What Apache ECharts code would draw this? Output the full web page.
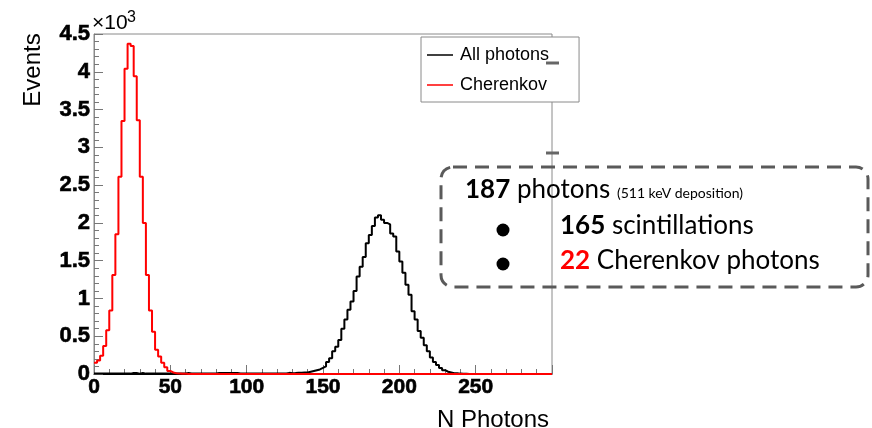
<!DOCTYPE html>
<html>
<head>
<meta charset="utf-8">
<script src="https://cdn.jsdelivr.net/npm/echarts@6/dist/echarts.min.js"></script>
<style>
html,body{margin:0;padding:0;background:#fff;}
#chart{width:872px;height:428px;}
</style>
</head>
<body>
<div id="chart"></div>
<script>
// Histogram definition: 150 bins of width 2 from 0 to 300 (N Photons)
const binWidth = 2;
const xMin = 0;
const xMax = 300;
const xTicks = [0, 50, 100, 150, 200, 250];
const yTicks = [0, 0.5, 1, 1.5, 2, 2.5, 3, 3.5, 4, 4.5];

// Events per bin (x10^3), "All photons"
const allPhotons = [
  0.005,0.005,0.005,0.005,0.005,0.005,0.005,0.005,0.005,0.005,
  0.005,0.005,0.012,0.012,0.005,0.012,0.005,0.005,0.005,0.005,
  0.008,0.008,0.008,0.008,0.008,0.008,0.008,0.008,0.008,0.008,
  0.012,0.008,0.008,0.008,0.008,0.008,0.008,0.008,0.008,0.008,
  0.012,0.012,0.012,0.012,0.012,0.012,0.012,0.006,0.006,0.006,
  0.006,0.006,0.006,0.006,0.006,0.006,0.008,0.008,0.008,0.008,
  0.008,0.008,0.008,0.015,0.010,0.012,0.015,0.018,0.02,0.02,
  0.03,0.04,0.05,0.06,0.08,0.10,0.16,0.21,0.30,0.36,
  0.45,0.60,0.72,0.85,0.96,1.10,1.29,1.42,1.55,1.73,
  1.84,1.96,2.07,2.10,2.04,2.00,1.98,1.86,1.82,1.62,
  1.49,1.34,1.18,1.05,0.83,0.72,0.57,0.48,0.38,0.30,
  0.22,0.16,0.12,0.08,0.05,0.03,0.02,0.01,0.01,0.005,
  0.003,0.002,0,0,0,0,0,0,0,0,
  0,0,0,0,0,0,0,0,0,0,
  0,0,0,0,0,0,0,0,0,0
];

// Events per bin (x10^3), "Cherenkov"
const cherenkov = [
  0.15,0.18,0.24,0.37,0.58,0.84,1.31,1.85,2.61,3.35,
  4.04,4.37,4.34,3.94,3.36,2.61,2.00,1.31,0.84,0.56,
  0.32,0.23,0.15,0.09,0.04,0.02,0.01,0.005,0.003,0.002,
  0.001,0.001,0,0,0,0,0,0,0,0,
  0,0,0,0,0,0,0,0,0,0,
  0,0,0,0,0,0,0,0,0,0,
  0,0,0,0,0,0,0,0,0,0,
  0,0,0,0,0,0,0,0,0,0,
  0,0,0,0,0,0,0,0,0,0,
  0,0,0,0,0,0,0,0,0,0,
  0,0,0,0,0,0,0,0,0,0,
  0,0,0,0,0,0,0,0,0,0,
  0,0,0,0,0,0,0,0,0,0,
  0,0,0,0,0,0,0,0,0,0,
  0,0,0,0,0,0,0,0,0,0
];

const seriesNames = ['All photons', 'Cherenkov'];
const seriesColors = ['#000000', '#ff0000'];

function toSteps(counts) {
  const pts = counts.map((v, i) => [xMin + i * binWidth, v]);
  pts.push([xMin + counts.length * binWidth, counts[counts.length - 1]]);
  return pts;
}

const chart = echarts.init(document.getElementById('chart'), null, {renderer: 'canvas'});
const tickFont = 'Liberation Sans';
const boxFont = 'Lato';

chart.setOption({
  animation: false,
  backgroundColor: '#ffffff',
  grid: {
    left: 94, right: 320, top: 34, bottom: 54,
    show: true, borderColor: '#8a8a8a', borderWidth: 1, backgroundColor: 'transparent'
  },
  legend: {
    left: 421, top: 37, orient: 'vertical',
    backgroundColor: '#ffffff', borderColor: '#8a8a8a', borderWidth: 1, borderRadius: 0,
    padding: [8, 30, 7, 6],
    icon: 'rect',
    itemWidth: 26, itemHeight: 1.5, itemGap: 10,
    textStyle: {fontFamily: tickFont, fontSize: 18, lineHeight: 20, color: '#000', padding: [0, 0, 0, 2]},
    data: seriesNames.map((n, i) => ({name: n, itemStyle: {color: seriesColors[i]}}))
  },
  xAxis: {
    type: 'value', min: xMin, max: xMax, interval: 50,
    axisLine: {show: true, lineStyle: {color: '#000', width: 1}},
    axisTick: {show: true, inside: true, length: 9, lineStyle: {color: '#777', width: 1}},
    minorTick: {show: true, splitNumber: 5, length: 5, lineStyle: {color: '#777', width: 1}},
    splitLine: {show: false},
    axisLabel: {
      fontFamily: tickFont, fontWeight: 'bold', fontSize: 21, color: '#000', margin: 3,
      textBorderColor: '#000', textBorderWidth: 0.6,
      formatter: v => (xTicks.indexOf(v) >= 0 ? String(v) : '')
    }
  },
  yAxis: {
    type: 'value', min: 0, max: 4.5, interval: 0.5,
    axisLine: {show: true, lineStyle: {color: '#8a8a8a', width: 1}},
    axisTick: {show: true, inside: true, length: 9, lineStyle: {color: '#777', width: 1}},
    minorTick: {show: true, splitNumber: 5, length: 5, lineStyle: {color: '#777', width: 1}},
    splitLine: {show: false},
    axisLabel: {
      fontFamily: tickFont, fontWeight: 'bold', fontSize: 22, color: '#000', margin: 4,
      textBorderColor: '#000', textBorderWidth: 0.6,
      formatter: v => {
        const t = yTicks.find(k => Math.abs(k - v) < 1e-6);
        return t === undefined ? '' : String(t);
      }
    }
  },
  series: [
    {
      name: seriesNames[0], type: 'line', step: 'end', symbol: 'none',
      data: toSteps(allPhotons),
      lineStyle: {color: seriesColors[0], width: 2}, itemStyle: {color: seriesColors[0]}, z: 2
    },
    {
      name: seriesNames[1], type: 'line', step: 'end', symbol: 'none',
      data: toSteps(cherenkov),
      lineStyle: {color: seriesColors[1], width: 2}, itemStyle: {color: seriesColors[1]}, z: 3
    }
  ],
  graphic: [
    {type: 'text', x: 33, y: 70, rotation: Math.PI / 2,
      style: {text: 'Events', fontFamily: tickFont, fontSize: 24, fill: '#000', align: 'center', verticalAlign: 'middle'}},
    {type: 'text', x: 549, y: 420,
      style: {text: 'N Photons', fontFamily: tickFont, fontSize: 24, fill: '#000', align: 'right', verticalAlign: 'middle'}},
    {type: 'text', x: 92, y: 34,
      style: {text: '\u00d710', fontFamily: tickFont, fontSize: 21, fill: '#000', align: 'left', verticalAlign: 'bottom'}},
    {type: 'text', x: 127, y: 10,
      style: {text: '3', fontFamily: tickFont, fontSize: 16, fill: '#000', align: 'left', verticalAlign: 'top'}},
    {type: 'line', shape: {x1: 546, y1: 63, x2: 559, y2: 63}, style: {stroke: '#666', lineWidth: 3}, z: 50},
    {type: 'line', shape: {x1: 546, y1: 153, x2: 559, y2: 153}, style: {stroke: '#666', lineWidth: 3}, z: 50},
    {type: 'rect', shape: {x: 441, y: 167, width: 427, height: 120, r: 12},
      style: {fill: 'none', stroke: '#5a5a5a', lineWidth: 3, lineDash: [14, 8]}, z: 60},
    {type: 'text', x: 465, y: 203, z: 61,
      style: {
        text: '{b|187}{n| photons }{s|(511 keV deposition)}',
        verticalAlign: 'bottom', align: 'left',
        rich: {
          b: {fontFamily: boxFont, fontWeight: 'bold', fontSize: 26, fill: '#000', verticalAlign: 'bottom'},
          n: {fontFamily: boxFont, fontSize: 26, fill: '#000', verticalAlign: 'bottom'},
          s: {fontFamily: boxFont, fontSize: 14, fill: '#000', verticalAlign: 'bottom', padding: [0, 0, 3, 0]}
        }
      }},
    {type: 'circle', shape: {cx: 503, cy: 230, r: 6.5}, style: {fill: '#000'}, z: 61},
    {type: 'circle', shape: {cx: 503, cy: 264, r: 6.5}, style: {fill: '#000'}, z: 61},
    {type: 'text', x: 560, y: 239, z: 61,
      style: {
        text: '{b|165}{n| scintillations}',
        verticalAlign: 'bottom', align: 'left',
        rich: {
          b: {fontFamily: boxFont, fontWeight: 'bold', fontSize: 26, fill: '#000'},
          n: {fontFamily: boxFont, fontSize: 26, fill: '#000'}
        }
      }},
    {type: 'text', x: 560, y: 274, z: 61,
      style: {
        text: '{r|22}{n| Cherenkov photons}',
        verticalAlign: 'bottom', align: 'left',
        rich: {
          r: {fontFamily: boxFont, fontWeight: 'bold', fontSize: 26, fill: '#ff0000'},
          n: {fontFamily: boxFont, fontSize: 26, fill: '#000'}
        }
      }}
  ]
});
</script>
</body>
</html>
